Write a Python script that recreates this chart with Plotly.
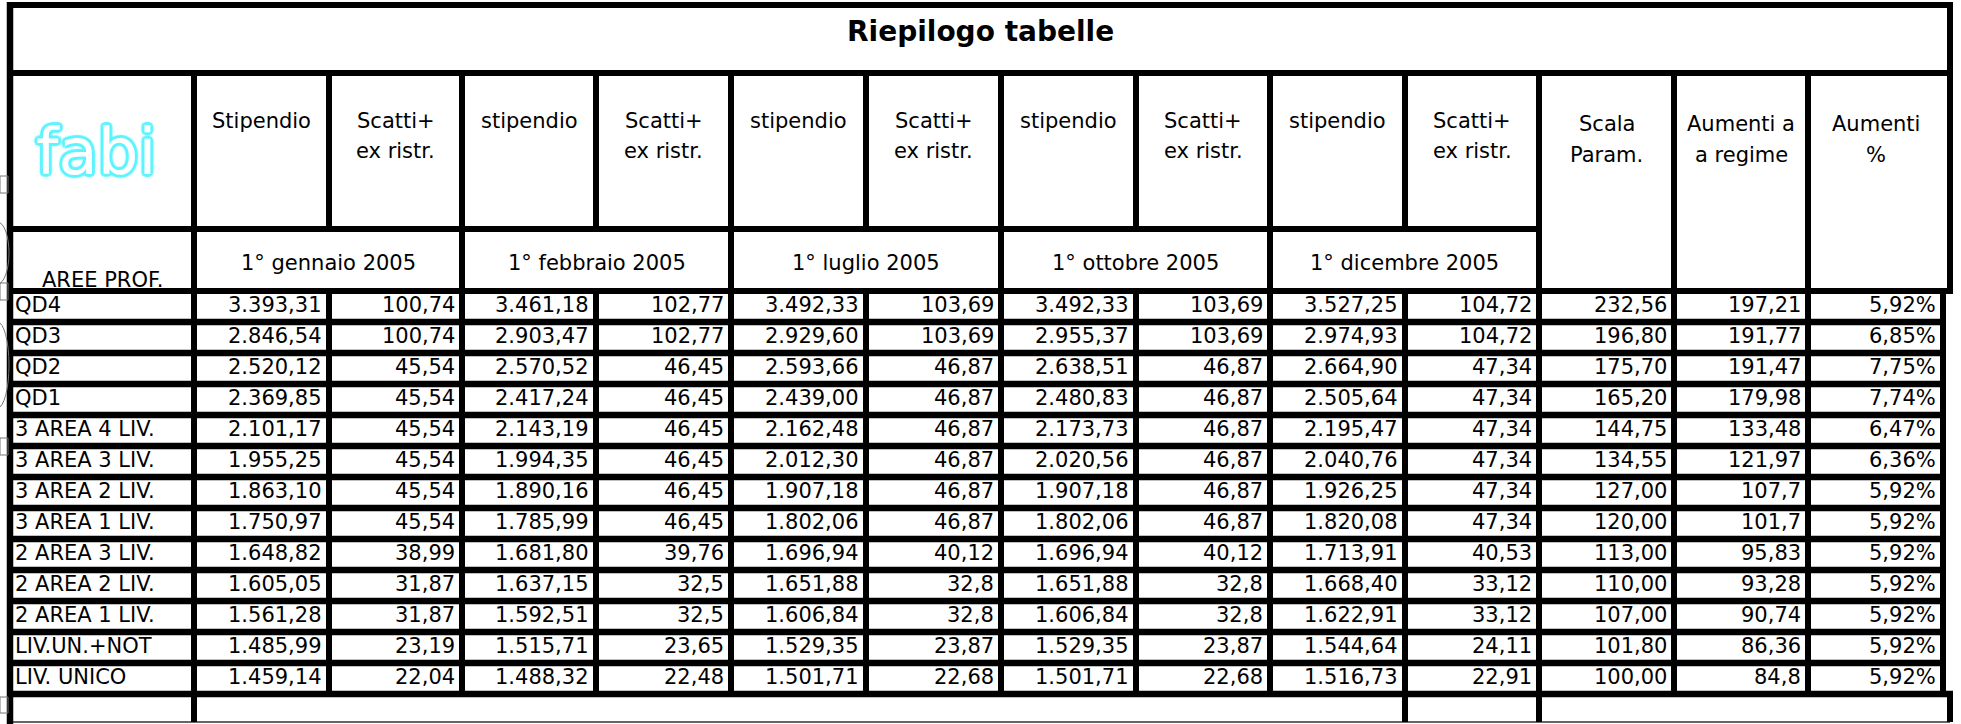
import plotly.graph_objects as go

# ---------------- data ----------------
title = "Riepilogo tabelle"
row_labels = ["QD4", "QD3", "QD2", "QD1", "3 AREA 4 LIV.", "3 AREA 3 LIV.", "3 AREA 2 LIV.",
              "3 AREA 1 LIV.", "2 AREA 3 LIV.", "2 AREA 2 LIV.", "2 AREA 1 LIV.",
              "LIV.UN.+NOT", "LIV. UNICO"]
header_labels = ["Stipendio", "Scatti+<br>ex ristr.", "stipendio", "Scatti+<br>ex ristr.",
                 "stipendio", "Scatti+<br>ex ristr.", "stipendio", "Scatti+<br>ex ristr.",
                 "stipendio", "Scatti+<br>ex ristr.", "Scala<br>Param.", "Aumenti a<br>a regime",
                 "Aumenti<br>%"]
date_labels = ["1° gennaio 2005", "1° febbraio 2005", "1° luglio 2005",
               "1° ottobre 2005", "1° dicembre 2005"]
first_col_header = "AREE PROF."
logo_text = "fabi"

stip_gen = [3393.31, 2846.54, 2520.12, 2369.85, 2101.17, 1955.25, 1863.10, 1750.97, 1648.82, 1605.05, 1561.28, 1485.99, 1459.14]
scatti_gen = [100.74, 100.74, 45.54, 45.54, 45.54, 45.54, 45.54, 45.54, 38.99, 31.87, 31.87, 23.19, 22.04]
stip_feb = [3461.18, 2903.47, 2570.52, 2417.24, 2143.19, 1994.35, 1890.16, 1785.99, 1681.80, 1637.15, 1592.51, 1515.71, 1488.32]
scatti_feb = [102.77, 102.77, 46.45, 46.45, 46.45, 46.45, 46.45, 46.45, 39.76, 32.5, 32.5, 23.65, 22.48]
stip_lug = [3492.33, 2929.60, 2593.66, 2439.00, 2162.48, 2012.30, 1907.18, 1802.06, 1696.94, 1651.88, 1606.84, 1529.35, 1501.71]
scatti_lug = [103.69, 103.69, 46.87, 46.87, 46.87, 46.87, 46.87, 46.87, 40.12, 32.8, 32.8, 23.87, 22.68]
stip_ott = [3492.33, 2955.37, 2638.51, 2480.83, 2173.73, 2020.56, 1907.18, 1802.06, 1696.94, 1651.88, 1606.84, 1529.35, 1501.71]
scatti_ott = [103.69, 103.69, 46.87, 46.87, 46.87, 46.87, 46.87, 46.87, 40.12, 32.8, 32.8, 23.87, 22.68]
stip_dic = [3527.25, 2974.93, 2664.90, 2505.64, 2195.47, 2040.76, 1926.25, 1820.08, 1713.91, 1668.40, 1622.91, 1544.64, 1516.73]
scatti_dic = [104.72, 104.72, 47.34, 47.34, 47.34, 47.34, 47.34, 47.34, 40.53, 33.12, 33.12, 24.11, 22.91]
scala_param = [232.56, 196.80, 175.70, 165.20, 144.75, 134.55, 127.00, 120.00, 113.00, 110.00, 107.00, 101.80, 100.00]
aumenti_regime = [197.21, 191.77, 191.47, 179.98, 133.48, 121.97, 107.7, 101.7, 95.83, 93.28, 90.74, 86.36, 84.8]
aumenti_pct = [5.92, 6.85, 7.75, 7.74, 6.47, 6.36, 5.92, 5.92, 5.92, 5.92, 5.92, 5.92, 5.92]

# ---------------- formatting (Italian style) ----------------
def it_fixed(v, dec=2):
    s = f"{v:,.{dec}f}"
    return s.replace(",", "X").replace(".", ",").replace("X", ".")

def it_general(v):
    s = f"{v:,.2f}".rstrip("0").rstrip(".")
    return s.replace(",", "X").replace(".", ",").replace("X", ".")

def it_pct(v):
    return it_fixed(v, 2) + "%"

columns = [
    (stip_gen, it_fixed), (scatti_gen, it_general),
    (stip_feb, it_fixed), (scatti_feb, it_general),
    (stip_lug, it_fixed), (scatti_lug, it_general),
    (stip_ott, it_fixed), (scatti_ott, it_general),
    (stip_dic, it_fixed), (scatti_dic, it_general),
    (scala_param, it_fixed), (aumenti_regime, it_general),
    (aumenti_pct, it_pct),
]

# ---------------- layout geometry ----------------
W, H = 1961, 724
edges = [10, 194, 329, 462, 596, 731, 866, 1001, 1136, 1270, 1405, 1539, 1674, 1808, 1943]
outer_right = 1950
y_top, y_title, y_head, y_date = 5, 73, 229, 291
row_h = 31
y_rows = [y_date + row_h * (i + 1) for i in range(len(row_labels))]
y_last = 722
LW = 6
FONT = "DejaVu Sans"
FS = 21

shapes = []

def hline(y, x0, x1, w=LW, color="black"):
    shapes.append(dict(type="line", xref="x", yref="y", x0=x0, x1=x1, y0=y, y1=y,
                       line=dict(color=color, width=w)))

def vline(x, y0, y1, w=LW, color="black"):
    shapes.append(dict(type="line", xref="x", yref="y", x0=x, x1=x, y0=y0, y1=y1,
                       line=dict(color=color, width=w)))

h = LW / 2
# horizontal borders
hline(y_top, edges[0] - h, outer_right + h)
hline(y_title, edges[0] - h, outer_right + h)
hline(y_head, edges[0] - h, edges[11] + h)
hline(y_date, edges[0] - h, outer_right + h)
for i, yr in enumerate(y_rows):
    xr = outer_right + h if i == len(y_rows) - 1 else edges[-1] + h
    hline(yr, edges[0] - h, xr, w=6.5)
hline(y_last, edges[0], outer_right, w=1.5, color="#333333")

# vertical borders
vline(edges[0], y_top - h, H, w=6.5)
vline(outer_right, y_top - h, y_date + h)
vline(outer_right, y_rows[-1] - 3, y_last)
vline(edges[-1], y_date, y_rows[-1] + 3)
for k in range(1, 14):
    vline(edges[k], y_title, y_head)
for k in [1, 3, 5, 7, 9, 11, 12, 13]:
    vline(edges[k], y_head, y_date)
for k in range(1, 14):
    vline(edges[k], y_date, y_rows[-1])
for k in [1, 10, 11]:
    vline(edges[k], y_rows[-1], y_last)

# small grey artefacts at the left edge (drawing objects of the sheet)
grey = dict(color="#777777", width=1)
for (ya, yb) in [(176, 193), (283, 300), (438, 455), (697, 713)]:
    shapes.append(dict(type="rect", xref="x", yref="y", x0=0, x1=8, y0=ya, y1=yb, line=grey))
for (ya, yb) in [(222, 284), (322, 408)]:
    shapes.append(dict(type="circle", xref="x", yref="y", x0=-14, x1=9, y0=ya, y1=yb, line=grey))

annotations = []

def txt(x, y, s, xanchor="center", size=FS, bold=False, color="black", family=FONT, shadow=None):
    f = dict(family=family, size=size, color=color)
    if bold:
        f["weight"] = "bold"
    if shadow:
        f["shadow"] = shadow
    annotations.append(dict(x=x, y=y, xref="x", yref="y", text=s, showarrow=False,
                            xanchor=xanchor, yanchor="middle", font=f, borderpad=0))

# title
txt((edges[0] + outer_right) / 2, 31, title, size=28, bold=True)

# logo (white letters with cyan outline)
cy = "#5ef4ff"
offs = [(3, 0), (-3, 0), (0, 3), (0, -3), (2.2, 2.2), (-2.2, -2.2), (2.2, -2.2), (-2.2, 2.2)]
sh = ", ".join(f"{dx}px {dy}px 1px {cy}" for dx, dy in offs) + f", 0 0 5px {cy}"
txt(96, 152, logo_text, size=64, color="white", family="DejaVu Sans", shadow=sh)

# column headers
for k, lab in enumerate(header_labels):
    xc = (edges[k + 1] + edges[k + 2]) / 2
    lines = lab.split("<br>")
    base = 120.5 if k < 10 else 123.5
    step = 30 if k < 10 else 31
    for j, ln in enumerate(lines):
        txt(xc, base + j * step, ln)

# date row
for d, lab in enumerate(date_labels):
    xc = (edges[1 + 2 * d] + edges[3 + 2 * d]) / 2
    txt(xc, 263, lab)
txt((edges[0] + edges[1]) / 2, 280, first_col_header)

# data rows
for i, lab in enumerate(row_labels):
    yc = (y_date + row_h * i + y_date + row_h * (i + 1)) / 2 - 2
    txt(edges[0] + 4, yc, lab, xanchor="left")
    for k, (vals, fmt) in enumerate(columns):
        txt(edges[k + 2] - 6, yc, fmt(vals[i]), xanchor="right")

fig = go.Figure()
fig.add_trace(go.Scatter(x=[0, W], y=[0, H], mode="markers", marker=dict(opacity=0),
                         hoverinfo="skip", showlegend=False))
fig.update_layout(
    width=W, height=H, autosize=False,
    margin=dict(l=0, r=0, t=0, b=0, pad=0),
    paper_bgcolor="white", plot_bgcolor="white",
    xaxis=dict(range=[0, W], visible=False, fixedrange=True),
    yaxis=dict(range=[H, 0], visible=False, fixedrange=True),
    shapes=shapes, annotations=annotations, showlegend=False,
)
fig.write_html("out.html", config={"displayModeBar": False},
               post_script="document.body.style.margin='0';document.body.style.overflow='hidden';")
